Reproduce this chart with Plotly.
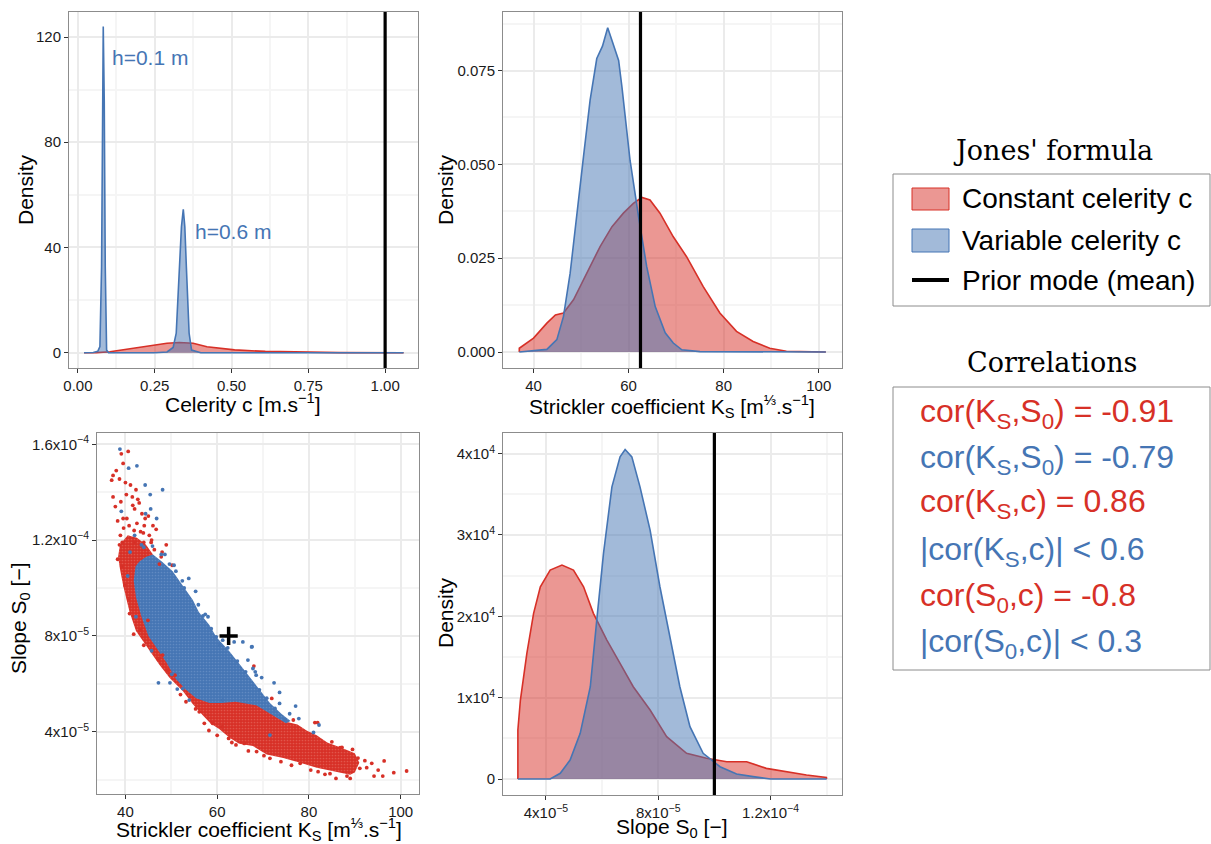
import plotly.graph_objects as go

W, H = 1211, 844
FONT = "Liberation Sans, Arial, sans-serif"
SERIF = "DejaVu Serif, serif"
RED = "#D73027"
BLUE = "#4575B4"
RED_FILL = "rgba(215,48,39,0.5)"
BLUE_FILL = "rgba(69,117,180,0.5)"

# ---------------- data ----------------
# Panel 1: celerity c density
cel_red_x = [0.02, 0.06, 0.104, 0.15, 0.20, 0.25, 0.29, 0.33, 0.375, 0.42, 0.51, 0.61, 0.72, 0.85, 1.06]
cel_red_y = [0, 0.05, 0.4, 1.2, 2.3, 3.0, 3.6, 3.9, 3.6, 2.3, 1.1, 0.5, 0.2, 0.05, 0]
cel_blue_x = [0.02, 0.05, 0.065, 0.0716, 0.077, 0.0804, 0.0825, 0.0857, 0.089, 0.0934, 0.10, 0.15,
              0.25, 0.29, 0.31, 0.32, 0.332, 0.337, 0.343, 0.348, 0.353, 0.362, 0.37, 0.40, 0.6, 1.06]
cel_blue_y = [0, 0.1, 0.6, 2.3, 32.7, 96, 124, 96, 32.7, 1, 0, 0,
              0, 0.3, 2, 7.4, 32.7, 47.9, 54.5, 47.9, 32.7, 7.4, 1, 0, 0, 0]
prior_c = 1.0

# Panel 2: Strickler Ks density
ks_red_x = [37, 37, 40, 42.8, 44.6, 46.3, 48.4, 51.2, 54, 56.5, 58.9, 61, 62.8, 64.5, 66.6, 69.4,
            72.2, 75.7, 79.2, 82.7, 86.2, 89.7, 93.2, 101.5]
ks_red_y = [0, 0.001, 0.0037, 0.0077, 0.0099, 0.0104, 0.0139, 0.021, 0.0281, 0.0334, 0.037, 0.0396,
            0.0412, 0.0405, 0.037, 0.0307, 0.0254, 0.0174, 0.0104, 0.0055, 0.0028, 0.0010, 0.0002, 0]
ks_blue_x = [37, 42.8, 44.9, 46.3, 47.7, 49.1, 50.5, 51.9, 53.3, 54.5, 55.6, 56.5, 57.9, 58.6, 60.3,
             62.1, 63.8, 65.6, 67.7, 69.4, 71.2, 75, 101.5]
ks_blue_y = [0, 0.0007, 0.0033, 0.0095, 0.021, 0.037, 0.052, 0.0671, 0.0782, 0.0815, 0.0864, 0.083,
             0.0777, 0.0706, 0.0511, 0.036, 0.0228, 0.0121, 0.0051, 0.0024, 0.0006, 0.0001, 0]
prior_ks = 62.5

# Panel 3: scatter Ks vs S0 (S0 in units of 1e-5)
S0_UNIT = 1e-5
red_core_ks = [38.8, 40.5, 42.5, 44.5, 46.0, 47.5, 49.5, 52.0, 55.0, 58.0, 62.0, 66.0, 70.0, 73.0,
               75.5, 77.5, 79.5, 81.7, 84.0, 87.5, 90.0, 91.0, 90.0, 89.0, 85.3, 81.7, 78.1, 74.4, 70.8,
               67.8, 64.8, 62.7, 60.5, 58.5, 56.8, 54.7, 52.5, 49.6, 47.4, 44.5, 42.3, 40.9, 40.2, 39.5,
               38.8, 38.4]
red_core_s0 = [11.8, 12.2, 12.1, 11.8, 11.4, 10.9, 10.2, 9.3, 8.4, 7.6, 6.6, 5.8, 5.0, 4.6,
               4.4, 4.3, 4.05, 3.85, 3.55, 3.3, 3.1, 2.7, 2.3, 2.2, 2.35, 2.5, 2.7, 2.9, 3.05,
               3.4, 3.5, 3.75, 4.1, 4.35, 4.7, 5.15, 5.7, 6.25, 6.8, 7.6, 8.2, 9.0, 9.5, 10.1,
               10.8, 11.3]
blue_core_ks = [43.0, 44.5, 46.0, 48.0, 50.3, 52.5, 54.7, 56.0, 58.3, 59.8, 62.7, 65.6, 68.5, 71.5, 74.0,
                76.0, 75.0, 72.0, 68.5, 64.0, 61.0, 58.3, 55.4, 53.2, 51.0, 48.9, 46.7, 45.0, 43.5, 42.3,
                41.8, 42.2]
blue_core_s0 = [11.1, 11.3, 11.4, 11.1, 10.7, 10.1, 9.5, 9.0, 8.45, 7.95, 7.35, 6.65, 5.95, 5.2, 4.75,
                4.45, 4.35, 4.7, 5.1, 5.25, 5.2, 5.2, 5.4, 5.75, 6.2, 6.9, 7.5, 8.0, 8.8, 9.6,
                10.3, 10.9]
red_pts_ks = [40.6, 39.1, 39.5, 37.3, 37.0, 38.7, 41.1, 42.3, 42.7, 43.0, 37.3, 41.6, 45.0, 46.7, 38.3,
              38.7, 38.3, 39.2, 39.9, 40.7, 40.9, 48.9, 48.0, 50.2, 47.4, 45.7, 44.1,
              41.8, 44.0, 43.2, 44.9, 47.1, 48.1, 49.2, 50.8, 53.2, 56.1, 57.2, 59.0, 61.1, 62.5, 64.1, 65.9,
              68.0, 71.9, 76.6, 81.3, 81.9, 85.0, 86.8, 89.5, 92.2, 93.7, 96.4, 98.5, 101.3, 96.1, 95.1,
              94.2, 89.0, 85.9, 83.5, 68.6, 71.5, 82.0, 78.1, 91.1,
              38.0, 40.0, 39.0, 40.2, 41.5, 42.0, 43.6, 39.5, 44.3, 46.0, 42.5, 37.8,
              39.6, 40.8, 41.9, 43.3, 38.9, 45.2, 44.0, 46.3, 47.8, 39.3, 42.0, 40.3, 43.9, 45.6,
              58.2, 60.0, 63.2, 66.8, 70.2, 73.9, 76.2, 80.4, 84.6, 88.3, 90.7, 87.2, 92.6, 55.3, 52.0]
red_pts_s0 = [15.7, 15.6, 15.2, 14.7, 14.5, 14.55, 14.3, 14.1, 13.7, 13.55, 13.8, 13.45, 13.0, 12.45, 12.8,
              11.8, 11.2, 10.9, 10.1, 9.55, 8.93, 11.8, 11.5, 10.95, 11.0, 12.0, 12.6,
              8.07, 7.61, 8.24, 8.65, 7.05, 7.2, 6.57, 6.36, 5.25, 4.83, 4.35, 4.35, 4.2, 3.72, 3.45, 3.51,
              6.74, 5.39, 4.49, 4.38, 4.38, 3.58, 3.33, 3.26, 2.79, 2.68, 2.78, 2.29, 2.36, 2.15, 2.40,
              2.15, 2.05, 2.05, 2.22, 3.17, 2.89, 2.33, 2.68, 2.47,
              14.9, 14.4, 13.6, 13.9, 13.8, 13.3, 13.1, 12.9, 12.9, 12.6, 12.7, 13.4,
              12.5, 12.6, 12.4, 12.35, 12.2, 12.2, 11.9, 11.6, 11.3, 11.9, 11.9, 12.9, 12.3, 11.9,
              4.05, 3.85, 3.55, 3.2, 3.0, 2.75, 2.6, 2.4, 2.25, 2.15, 2.9, 3.35, 2.5, 4.95, 5.55]
blue_pts_ks = [38.8, 40.7, 42.5, 44.3, 48.1, 45.4, 45.5, 44.4, 46.8, 39.1, 48.6, 53.8, 55.3, 52.8, 51.0, 49.6,
               42.3, 45.7, 47.2, 49.7, 51.3, 52.5, 56.9, 58.0, 58.7, 59.8, 61.2, 63.7, 65.6, 67.6, 66.7, 67.8,
               61.2, 53.9, 67.5, 68.5, 69.7, 72.4, 73.6, 73.6, 77.1, 72.6, 74.8, 81.0, 82.2, 71.5, 68.3,
               41.0, 42.0, 43.5, 40.5,
               50.6, 52.4, 55.9, 57.4, 60.6, 62.3, 64.4, 66.2, 69.2, 70.8, 75.8, 77.8, 44.0, 45.9, 47.8, 50.1]
blue_pts_s0 = [15.8, 15.0, 15.1, 14.3, 14.1, 13.9, 13.3, 13.1, 12.9, 13.2, 11.4, 10.4, 9.86, 10.0, 10.7, 11.0,
               8.8, 7.38, 6.04, 6.04, 5.78, 5.8, 8.83, 8.8, 8.3, 7.96, 7.82, 7.75, 7.75, 7.55, 6.99, 6.64,
               5.32, 5.32, 7.54, 6.36, 6.26, 6.04, 5.64, 5.18, 5.07, 4.97, 4.49, 3.97, 4.28, 3.86, 6.5,
               11.5, 12.2, 11.8, 10.5,
               10.95, 10.3, 9.3, 8.9, 7.6, 7.5, 6.95, 6.5, 5.75, 5.4, 4.75, 4.55, 11.7, 11.75, 11.4, 6.4]
prior_point_ks = 62.5
prior_point_s0 = 8.0

# Panel 4: slope S0 density (x in units of 1e-5)
s0_red_x = [3.0, 3.0, 3.09, 3.32, 3.56, 3.80, 4.15, 4.57, 4.98, 5.34, 5.69, 6.17, 6.64, 7.11, 7.71, 8.30,
            9.01, 9.72, 10.44, 11.15, 11.85, 12.57, 13.28, 13.99, 14.0]
s0_red_y = [0, 6020, 9705, 15440, 20360, 23630, 25680, 26290, 25680, 23630, 20360, 17080, 14210, 11340,
            8480, 5200, 3160, 2540, 2130, 2130, 1310, 900, 490, 200, 0]
s0_blue_x = [3.0, 4.15, 4.51, 4.86, 5.22, 5.58, 5.81, 6.05, 6.35, 6.64, 6.82, 7.06, 7.35, 7.71, 8.06, 8.42,
             8.77, 9.13, 9.60, 10.2, 10.79, 11.38, 12.0, 14.0]
s0_blue_y = [0, 0, 700, 2330, 5610, 11340, 19530, 27730, 35910, 39600, 40500, 39600, 35910, 30590, 23630,
             17480, 11340, 6430, 3160, 1510, 610, 290, 0, 0]
prior_s0 = 10.0

legend_labels = ["Constant celerity c", "Variable celerity c", "Prior mode (mean)"]
corr_lines = ["cor(K<sub>S</sub>,S<sub>0</sub>) = -0.91",
              "cor(K<sub>S</sub>,S<sub>0</sub>) = -0.79",
              "cor(K<sub>S</sub>,c) = 0.86",
              "|cor(K<sub>S</sub>,c)| < 0.6",
              "cor(S<sub>0</sub>,c) = -0.8",
              "|cor(S<sub>0</sub>,c)| < 0.3"]
corr_colors = [RED, BLUE, RED, BLUE, RED, BLUE]

# ---------------- figure ----------------
def sc(v):
    return [a * S0_UNIT for a in v]

fig = go.Figure()

def density(x, y, line, fill, xa, ya):
    fig.add_trace(go.Scatter(x=x, y=y, mode="lines", fill="tozeroy", fillcolor=fill,
                             line=dict(color=line, width=1.6), xaxis=xa, yaxis=ya,
                             showlegend=False, hoverinfo="skip"))

density(cel_red_x, cel_red_y, RED, RED_FILL, "x", "y")
density(cel_blue_x, cel_blue_y, BLUE, BLUE_FILL, "x", "y")
density(ks_red_x, ks_red_y, RED, RED_FILL, "x2", "y2")
density(ks_blue_x, ks_blue_y, BLUE, BLUE_FILL, "x2", "y2")
density(sc(s0_red_x), s0_red_y, RED, RED_FILL, "x4", "y4")
density(sc(s0_blue_x), s0_blue_y, BLUE, BLUE_FILL, "x4", "y4")

# scatter panel: dense cores + individual points
fig.add_trace(go.Scatter(x=red_core_ks, y=sc(red_core_s0), mode="lines", fill="toself", fillcolor=RED,
                         fillpattern=dict(shape=".", bgcolor=RED, fgcolor="#ec7a70", size=3, solidity=0.25),
                         line=dict(width=0, color=RED), xaxis="x3", yaxis="y3", showlegend=False, hoverinfo="skip"))
fig.add_trace(go.Scatter(x=blue_core_ks, y=sc(blue_core_s0), mode="lines", fill="toself", fillcolor=BLUE,
                         fillpattern=dict(shape=".", bgcolor=BLUE, fgcolor="#7b9fd0", size=3, solidity=0.25),
                         line=dict(width=0, color=BLUE), xaxis="x3", yaxis="y3", showlegend=False, hoverinfo="skip"))
fig.add_trace(go.Scatter(x=red_pts_ks, y=sc(red_pts_s0), mode="markers", marker=dict(color=RED, size=3.8),
                         xaxis="x3", yaxis="y3", showlegend=False))
fig.add_trace(go.Scatter(x=blue_pts_ks, y=sc(blue_pts_s0), mode="markers", marker=dict(color=BLUE, size=3.8),
                         xaxis="x3", yaxis="y3", showlegend=False))
fig.add_trace(go.Scatter(x=[prior_point_ks], y=[prior_point_s0 * S0_UNIT], mode="markers",
                         marker=dict(symbol="cross-thin", size=13, line=dict(width=3.5, color="black")),
                         xaxis="x3", yaxis="y3", showlegend=False))

# prior lines
for xv, xr, yr in [(prior_c, "x", "y"), (prior_ks, "x2", "y2"), (prior_s0 * S0_UNIT, "x4", "y4")]:
    fig.add_shape(type="line", xref=xr, yref=yr + " domain", x0=xv, x1=xv, y0=0, y1=1,
                  line=dict(color="black", width=3.2))


def ax(rng, dom, anchor, tickvals, ticktext, minor_vals):
    return dict(domain=dom, anchor=anchor, range=rng, tickmode="array", tickvals=tickvals, ticktext=ticktext,
                showline=True, mirror=True, linecolor="#8c8c8c", linewidth=1,
                showgrid=True, gridcolor="#ebebeb", gridwidth=2.4, zeroline=False, automargin=False,
                ticks="outside", ticklen=4, tickwidth=1, tickcolor="#333333",
                tickfont=dict(size=15, color="#1a1a1a", family=FONT),
                minor=dict(tickmode="array", tickvals=minor_vals, showgrid=True, gridcolor="#f5f5f5",
                           gridwidth=1.6, ticks=""))

def px(v):
    return v / W

def py(v):
    return 1 - v / H

sup = lambda m, e: f"{m}x10<sup>{e}</sup>"

fig.update_layout(
    width=W, height=H, margin=dict(l=0, r=0, t=0, b=0, pad=0),
    paper_bgcolor="white", plot_bgcolor="white",
    font=dict(family=FONT, color="#1a1a1a"),
    xaxis=ax([-0.029, 1.107], [px(69), px(418)], "y", [0, 0.25, 0.5, 0.75, 1.0],
             ["0.00", "0.25", "0.50", "0.75", "1.00"], [0.125, 0.375, 0.625, 0.875]),
    yaxis=ax([-5.8, 129.5], [py(368), py(12)], "x", [0, 40, 80, 120], ["0", "40", "80", "120"], [20, 60, 100]),
    xaxis2=ax([33.57, 104.9], [px(503), px(842)], "y2", [40, 60, 80, 100], ["40", "60", "80", "100"], [50, 70, 90]),
    yaxis2=ax([-0.00426, 0.0906], [py(368), py(12)], "x2", [0, 0.025, 0.05, 0.075],
              ["0.000", "0.025", "0.050", "0.075"], [0.0125, 0.0375, 0.0625, 0.0875]),
    xaxis3=ax([33.8, 104.0], [px(97), px(419)], "y3", [40, 60, 80, 100], ["40", "60", "80", "100"], [50, 70, 90]),
    yaxis3=ax([1.4e-5, 1.647e-4], [py(794), py(433)], "x3", [4e-5, 8e-5, 1.2e-4, 1.6e-4],
              [sup(4, "−5"), sup(8, "−5"), sup(1.2, "−4"), sup(1.6, "−4")], [2e-5, 6e-5, 1e-4, 1.4e-4]),
    xaxis4=ax([2.47e-5, 1.4546e-4], [px(503), px(842)], "y4", [4e-5, 8e-5, 1.2e-4],
              [sup(4, "−5"), sup(8, "−5"), sup(1.2, "−4")], [2e-5, 6e-5, 1e-4, 1.4e-4]),
    yaxis4=ax([-1966, 42530], [py(795), py(433)], "x4", [0, 1e4, 2e4, 3e4, 4e4],
              ["0", sup(1, 4), sup(2, 4), sup(3, 4), sup(4, 4)], [5000, 15000, 25000, 35000]),
)

ann = []
def text(x, y, s, size, color="#000000", xanchor="center", family=FONT, angle=0):
    ann.append(dict(x=px(x), y=py(y), xref="paper", yref="paper", text=s, showarrow=False,
                    xanchor=xanchor, yanchor="middle", textangle=angle,
                    font=dict(size=size, color=color, family=family)))

TS = 21
text(243, 403, "Celerity c [m.s<sup>−1</sup>]", TS)
text(25, 190, "Density", TS, angle=-90)
text(672, 406, "Strickler coefficient K<sub>S</sub> [m<sup>⅓</sup>.s<sup>−1</sup>]", TS)
text(445, 190, "Density", TS, angle=-90)
text(259, 829, "Strickler coefficient K<sub>S</sub> [m<sup>⅓</sup>.s<sup>−1</sup>]", TS)
text(20, 618, "Slope S<sub>0</sub> [−]", TS, angle=-90)
text(672, 828, "Slope S<sub>0</sub> [−]", TS)
text(445, 613, "Density", TS, angle=-90)

# in-panel labels
text(110, 57, "h=0.1 m", 21, BLUE, xanchor="left")
text(193, 232, "h=0.6 m", 21, BLUE, xanchor="left")

# legend block
text(1053, 150, "Jones' formula", 27, family=SERIF)
for lab, yc in zip(legend_labels, [199, 240, 280]):
    text(960, yc, lab, 28, xanchor="left")
text(1052, 362, "Correlations", 27, family=SERIF)
for s, c, yc in zip(corr_lines, corr_colors, [413, 459, 504, 551, 597, 643]):
    text(918, yc, s, 32, c, xanchor="left")
fig.update_layout(annotations=ann)

shapes = [
    dict(type="rect", xref="paper", yref="paper", x0=px(893), x1=px(1210), y0=py(306), y1=py(174),
         line=dict(color="#8c8c8c", width=1)),
    dict(type="rect", xref="paper", yref="paper", x0=px(912), x1=px(949), y0=py(210), y1=py(188),
         line=dict(color=RED, width=1), fillcolor=RED_FILL),
    dict(type="rect", xref="paper", yref="paper", x0=px(912), x1=px(949), y0=py(252), y1=py(229),
         line=dict(color=BLUE, width=1), fillcolor=BLUE_FILL),
    dict(type="line", xref="paper", yref="paper", x0=px(912), x1=px(949), y0=py(280), y1=py(280),
         line=dict(color="black", width=4)),
    dict(type="rect", xref="paper", yref="paper", x0=px(893), x1=px(1210), y0=py(670), y1=py(387),
         line=dict(color="#8c8c8c", width=1)),
]
for s in shapes:
    fig.add_shape(**s)

fig.write_html("out.html", config={"displayModeBar": False},
               post_script="document.body.style.margin='0';document.body.style.padding='0';document.body.style.overflow='hidden';")
